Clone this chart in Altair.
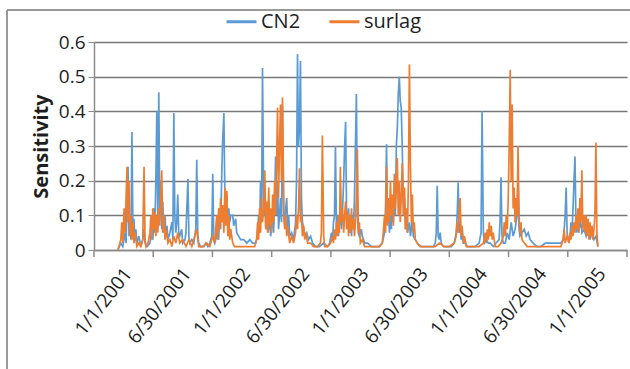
import altair as alt
import pandas as pd

# ---- data (day index counted from 1/1/2001) ----
cn2_day = [73, 82, 88, 95, 98, 104, 107, 110, 113, 116, 119, 122, 125, 128, 131, 137, 143, 149, 153, 156,
           162, 171, 177, 180, 183, 186, 189, 192, 195, 198, 201, 204, 207, 210, 214, 217, 220, 223, 226, 232,
           238, 241, 244, 247, 250, 253, 256, 259, 262, 268, 271, 278, 281, 287, 290, 293, 299, 305, 311, 314,
           317, 320, 326, 336, 342, 348, 354, 360, 363, 366, 369, 375, 378, 381, 384, 387, 390, 393, 397, 400,
           403, 406, 409, 412, 415, 418, 424, 427, 433, 436, 442, 448, 458, 467, 476, 485, 494, 500, 503, 506,
           509, 512, 515, 519, 522, 525, 528, 531, 537, 540, 546, 549, 552, 555, 558, 561, 564, 567, 570, 573,
           576, 580, 583, 586, 589, 592, 595, 598, 604, 610, 616, 619, 622, 625, 628, 631, 634, 637, 641, 644,
           650, 656, 662, 668, 677, 689, 702, 714, 720, 726, 729, 732, 735, 738, 741, 744, 747, 750, 753, 756,
           759, 763, 766, 769, 772, 775, 778, 781, 784, 787, 790, 793, 796, 799, 802, 805, 808, 811, 817, 820,
           827, 836, 848, 860, 872, 881, 888, 891, 894, 897, 900, 903, 906, 909, 912, 915, 918, 921, 924, 927,
           930, 933, 936, 939, 942, 946, 949, 952, 955, 958, 964, 967, 970, 973, 976, 982, 988, 1000, 1013, 1025,
           1037, 1043, 1046, 1049, 1052, 1055, 1058, 1061, 1068, 1080, 1092, 1101, 1107, 1110, 1113, 1116, 1119, 1122, 1125, 1129,
           1135, 1141, 1153, 1165, 1177, 1183, 1186, 1190, 1193, 1199, 1205, 1211, 1220, 1229, 1238, 1241, 1244, 1247, 1251, 1257,
           1263, 1269, 1275, 1281, 1287, 1293, 1296, 1299, 1302, 1308, 1315, 1321, 1327, 1333, 1342, 1354, 1366, 1379, 1391, 1403,
           1415, 1427, 1434, 1437, 1440, 1443, 1446, 1449, 1455, 1458, 1461, 1464, 1467, 1470, 1473, 1476, 1479, 1482, 1488, 1491,
           1498, 1504, 1510, 1516, 1522, 1528, 1534, 1540]
cn2_val = [0, 0.02, 0.01, 0.05, 0.02, 0.24, 0.04, 0.1, 0.03, 0.34, 0.05, 0.09, 0.03, 0.06, 0.02, 0.04, 0.01, 0.03, 0.06, 0.02,
           0.01, 0.02, 0.06, 0.03, 0.12, 0.05, 0.2, 0.40, 0.1, 0.455, 0.12, 0.2, 0.06, 0.14, 0.05, 0.1, 0.04, 0.07, 0.03, 0.05,
           0.08, 0.03, 0.395, 0.1, 0.05, 0.08, 0.16, 0.05, 0.04, 0.06, 0.02, 0.03, 0.05, 0.205, 0.04, 0.02, 0.03, 0.02, 0.06, 0.26,
           0.05, 0.02, 0.01, 0.01, 0.02, 0.01, 0.02, 0.04, 0.22, 0.03, 0.02, 0.04, 0.08, 0.03, 0.12, 0.06, 0.2, 0.31, 0.395, 0.15,
           0.1, 0.16, 0.07, 0.12, 0.08, 0.1, 0.1, 0.07, 0.09, 0.05, 0.04, 0.03, 0.03, 0.02, 0.03, 0.02, 0.02, 0.04, 0.1, 0.05,
           0.2, 0.08, 0.525, 0.1, 0.15, 0.06, 0.12, 0.05, 0.08, 0.04, 0.1, 0.05, 0.14, 0.27, 0.1, 0.2, 0.06, 0.1, 0.15, 0.08,
           0.42, 0.1, 0.07, 0.12, 0.15, 0.06, 0.1, 0.04, 0.05, 0.03, 0.08, 0.2, 0.565, 0.3, 0.35, 0.545, 0.15, 0.08, 0.06, 0.04,
           0.05, 0.03, 0.04, 0.02, 0.01, 0.01, 0.02, 0.01, 0.02, 0.05, 0.03, 0.08, 0.1, 0.30, 0.06, 0.1, 0.04, 0.08, 0.12, 0.06,
           0.1, 0.2, 0.3, 0.37, 0.1, 0.07, 0.12, 0.05, 0.09, 0.04, 0.1, 0.06, 0.15, 0.3, 0.45, 0.1, 0.05, 0.04, 0.06, 0.04,
           0.02, 0.02, 0.01, 0.01, 0.01, 0.02, 0.05, 0.12, 0.305, 0.08, 0.12, 0.05, 0.1, 0.06, 0.15, 0.08, 0.2, 0.1, 0.3, 0.35,
           0.45, 0.50, 0.43, 0.41, 0.3, 0.1, 0.15, 0.06, 0.1, 0.05, 0.08, 0.04, 0.06, 0.1, 0.04, 0.03, 0.02, 0.01, 0.01, 0.01,
           0.01, 0.02, 0.05, 0.185, 0.04, 0.03, 0.05, 0.02, 0.01, 0.01, 0.01, 0.02, 0.05, 0.1, 0.195, 0.05, 0.08, 0.03, 0.05, 0.02,
           0.02, 0.01, 0.01, 0.01, 0.02, 0.05, 0.40, 0.05, 0.02, 0.03, 0.02, 0.02, 0.01, 0.02, 0.03, 0.08, 0.21, 0.04, 0.02, 0.02,
           0.05, 0.03, 0.08, 0.04, 0.06, 0.1, 0.2, 0.06, 0.04, 0.05, 0.06, 0.04, 0.05, 0.03, 0.02, 0.01, 0.01, 0.02, 0.02, 0.02,
           0.02, 0.02, 0.03, 0.06, 0.1, 0.18, 0.05, 0.03, 0.04, 0.08, 0.05, 0.12, 0.2, 0.27, 0.08, 0.05, 0.1, 0.06, 0.08, 0.05,
           0.06, 0.04, 0.06, 0.03, 0.05, 0.03, 0.04, 0.01]

surlag_day = [73, 82, 85, 88, 92, 95, 98, 101, 104, 107, 110, 113, 116, 119, 122, 125, 131, 137, 143, 149,
              153, 156, 159, 165, 171, 174, 177, 180, 183, 186, 189, 192, 195, 198, 201, 204, 207, 210, 214, 217,
              220, 226, 232, 238, 244, 250, 256, 262, 271, 281, 290, 299, 308, 314, 320, 332, 345, 354, 363, 369,
              372, 375, 378, 381, 384, 387, 390, 393, 397, 400, 403, 406, 409, 412, 415, 418, 424, 430, 445, 461,
              476, 491, 497, 500, 503, 506, 509, 512, 515, 519, 522, 525, 528, 531, 534, 537, 540, 543, 546, 549,
              552, 555, 558, 561, 564, 567, 570, 573, 576, 580, 583, 586, 589, 592, 598, 604, 610, 616, 619, 622,
              625, 628, 631, 634, 637, 641, 644, 647, 653, 662, 671, 683, 692, 695, 698, 702, 705, 714, 723, 729,
              732, 735, 738, 741, 744, 747, 750, 753, 756, 759, 763, 766, 769, 772, 775, 778, 781, 784, 787, 790,
              793, 796, 799, 802, 805, 808, 811, 814, 820, 827, 842, 857, 872, 881, 885, 888, 891, 894, 897, 900,
              903, 906, 909, 912, 915, 918, 921, 924, 927, 930, 933, 936, 939, 942, 946, 949, 952, 955, 958, 961,
              964, 967, 970, 973, 976, 979, 982, 988, 997, 1010, 1025, 1043, 1055, 1071, 1086, 1101, 1107, 1110, 1113, 1116,
              1119, 1122, 1125, 1129, 1132, 1138, 1147, 1162, 1177, 1190, 1196, 1199, 1202, 1205, 1208, 1211, 1214, 1217, 1220, 1226,
              1235, 1244, 1251, 1254, 1257, 1260, 1263, 1266, 1269, 1272, 1275, 1278, 1281, 1284, 1287, 1290, 1293, 1296, 1299, 1302,
              1305, 1308, 1315, 1324, 1345, 1376, 1406, 1427, 1434, 1437, 1440, 1446, 1452, 1455, 1458, 1461, 1464, 1467, 1470, 1473,
              1476, 1479, 1482, 1485, 1488, 1491, 1494, 1498, 1501, 1504, 1507, 1510, 1513, 1516, 1519, 1522, 1525, 1528, 1531, 1534,
              1537, 1540]
surlag_val = [0, 0.03, 0.08, 0.02, 0.12, 0.05, 0.15, 0.24, 0.08, 0.2, 0.04, 0.1, 0.03, 0.08, 0.02, 0.05, 0.01, 0.02, 0.01, 0.03,
              0.24, 0.03, 0.01, 0.02, 0.05, 0.1, 0.03, 0.12, 0.06, 0.11, 0.04, 0.1, 0.05, 0.12, 0.07, 0.15, 0.23, 0.05, 0.1, 0.03,
              0.06, 0.02, 0.03, 0.01, 0.04, 0.02, 0.05, 0.02, 0.03, 0.01, 0.03, 0.01, 0.04, 0.06, 0.01, 0.01, 0.02, 0.01, 0.04, 0.02,
              0.06, 0.1, 0.03, 0.12, 0.06, 0.15, 0.08, 0.13, 0.05, 0.18, 0.07, 0.17, 0.04, 0.1, 0.03, 0.06, 0.02, 0.01, 0.01, 0.01,
              0.01, 0.01, 0.03, 0.08, 0.03, 0.12, 0.05, 0.15, 0.08, 0.12, 0.23, 0.06, 0.14, 0.05, 0.18, 0.07, 0.12, 0.05, 0.16, 0.08,
              0.2, 0.1, 0.25, 0.41, 0.15, 0.3, 0.42, 0.2, 0.44, 0.1, 0.06, 0.1, 0.04, 0.07, 0.02, 0.04, 0.02, 0.05, 0.1, 0.06,
              0.12, 0.236, 0.08, 0.1, 0.04, 0.07, 0.03, 0.05, 0.02, 0.02, 0.01, 0.01, 0.02, 0.05, 0.33, 0.04, 0.01, 0.01, 0.02, 0.04,
              0.02, 0.06, 0.03, 0.08, 0.04, 0.1, 0.05, 0.24, 0.08, 0.12, 0.05, 0.1, 0.14, 0.06, 0.11, 0.04, 0.1, 0.05, 0.12, 0.06,
              0.09, 0.04, 0.08, 0.15, 0.29, 0.05, 0.08, 0.02, 0.03, 0.01, 0.01, 0.01, 0.01, 0.02, 0.06, 0.1, 0.05, 0.24, 0.07, 0.15,
              0.08, 0.2, 0.1, 0.16, 0.07, 0.22, 0.12, 0.18, 0.265, 0.1, 0.2, 0.08, 0.15, 0.25, 0.1, 0.18, 0.06, 0.12, 0.05, 0.2,
              0.535, 0.25, 0.08, 0.16, 0.05, 0.08, 0.03, 0.02, 0.01, 0.01, 0.01, 0.01, 0.02, 0.01, 0.01, 0.02, 0.04, 0.08, 0.05, 0.12,
              0.15, 0.04, 0.07, 0.02, 0.04, 0.01, 0.01, 0.01, 0.01, 0.02, 0.05, 0.02, 0.06, 0.03, 0.08, 0.04, 0.07, 0.03, 0.05, 0.01,
              0.01, 0.02, 0.04, 0.08, 0.04, 0.1, 0.06, 0.15, 0.3, 0.52, 0.2, 0.42, 0.12, 0.18, 0.08, 0.15, 0.1, 0.30, 0.1, 0.05,
              0.08, 0.03, 0.02, 0.01, 0.01, 0.01, 0.01, 0.01, 0.03, 0.06, 0.02, 0.04, 0.02, 0.05, 0.03, 0.07, 0.04, 0.08, 0.05, 0.1,
              0.06, 0.12, 0.05, 0.15, 0.08, 0.23, 0.06, 0.1, 0.05, 0.1, 0.04, 0.09, 0.03, 0.08, 0.04, 0.07, 0.03, 0.06, 0.1, 0.31,
              0.05, 0.01]

series_names = ["CN2", "surlag"]
series_colors = ["#5B9BD5", "#ED7D31"]

tick_labels = ["1/1/2001", "6/30/2001", "1/1/2002", "6/30/2002", "1/1/2003",
               "6/30/2003", "1/1/2004", "6/30/2004", "1/1/2005"]
label_days = [90.5, 271.5, 452.5, 633.5, 814.5, 995.5, 1176.5, 1357.5, 1538.5]
boundary_days = [0, 181, 362, 543, 724, 905, 1086, 1267, 1448, 1629]
y_ticks = [0, 0.1, 0.2, 0.3, 0.4, 0.5, 0.6]

df = pd.concat([
    pd.DataFrame({"day": cn2_day, "value": cn2_val, "series": "CN2"}),
    pd.DataFrame({"day": surlag_day, "value": surlag_val, "series": "surlag"}),
], ignore_index=True)

FONT = "Open Sans"
GRAY = "#8c8c8c"
TXT = "#1e1e1e"

label_expr = "[" + ",".join("'" + t + "'" for t in tick_labels) + "][round((datum.value - 90.5) / 181)]"

xscale = alt.Scale(domain=[0, 1629], nice=False, zero=False)

lines = alt.Chart(df).mark_line(strokeWidth=1.7).encode(
    x=alt.X("day:Q", scale=xscale, title=None,
            axis=alt.Axis(values=label_days, labelExpr=label_expr, labelAngle=-52,
                          labelAlign="right", labelBaseline="middle", labelPadding=20,
                          labelOffset=4,
                          ticks=False, tickSize=0, grid=False, domainColor=GRAY, domainWidth=1.5,
                          labelFont=FONT, labelFontSize=19, labelColor=TXT,
                          labelOverlap=False, labelBound=False)),
    y=alt.Y("value:Q", scale=alt.Scale(domain=[0, 0.6], nice=False),
            axis=alt.Axis(values=y_ticks, format=".1~f", title="Sensitivity",
                          titleFont=FONT, titleFontSize=20, titleFontWeight="bold",
                          titleColor=TXT, titlePadding=7,
                          labelFont=FONT, labelFontSize=19, labelColor=TXT, labelPadding=3,
                          tickSize=6, tickColor=GRAY, domainColor=GRAY, domainWidth=1.5,
                          gridColor="#777777", gridWidth=1.5)),
    color=alt.Color("series:N", scale=alt.Scale(domain=series_names, range=series_colors),
                    legend=alt.Legend(title=None, orient="none", legendX=131, legendY=-37,
                                      direction="horizontal", symbolType="stroke",
                                      symbolSize=900, symbolStrokeWidth=3, labelFont=FONT,
                                      labelFontSize=20, labelColor=TXT, labelOffset=3,
                                      columnPadding=22, padding=0)),
)

ticks = alt.Chart(pd.DataFrame({"day": boundary_days})).mark_rule(color=GRAY, strokeWidth=1.5).encode(
    x=alt.X("day:Q", scale=xscale),
    y=alt.value(208), y2=alt.value(215),
)

frame_top = alt.Chart(pd.DataFrame({"a": [0]})).mark_rule(color="#9a9a9a", strokeWidth=2).encode(
    x=alt.value(-87), x2=alt.value(540), y=alt.value(-32)
)
frame_left = alt.Chart(pd.DataFrame({"a": [0]})).mark_rule(color="#9a9a9a", strokeWidth=2).encode(
    x=alt.value(-87), y=alt.value(-32), y2=alt.value(330)
)

chart = alt.layer(lines, ticks, frame_top, frame_left).properties(
    width=533, height=208,
    autosize=alt.AutoSizeParams(type="none"),
    padding={"left": 94, "top": 42, "right": 3, "bottom": 119},
    background="white",
).configure_view(stroke=None)

chart.save("out.html", embed_options={"renderer": "svg", "actions": False})
